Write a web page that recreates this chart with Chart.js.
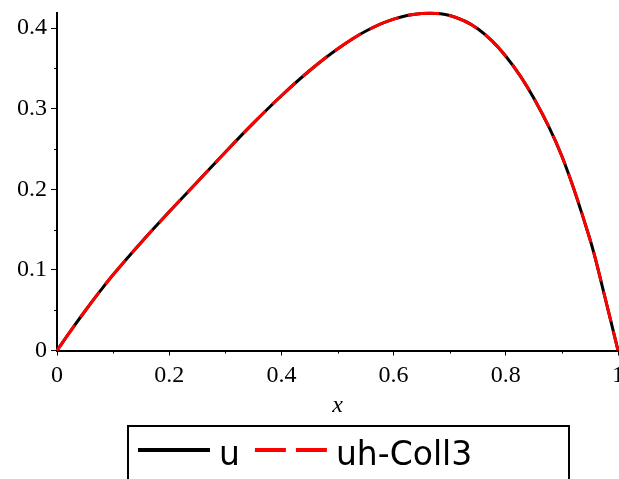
<!DOCTYPE html>
<html>
<head>
<meta charset="utf-8">
<script src="https://cdn.jsdelivr.net/npm/chart.js@4/dist/chart.umd.min.js"></script>
<style>
  html, body { margin: 0; padding: 0; background: #fff; }
  #plot { display: block; }
</style>
</head>
<body>
<canvas id="plot" width="619" height="479"></canvas>
<script>
// values (u and uh-Coll3 lie on top of each other)
const xValues  = [0, 0.025, 0.05, 0.075, 0.1, 0.15, 0.2, 0.25, 0.3, 0.35, 0.4, 0.45, 0.5,
                  0.55, 0.6, 0.65, 0.7, 0.75, 0.8, 0.85, 0.9, 0.95, 0.975, 1];
const uValues  = [0, 0.025, 0.049, 0.072, 0.094, 0.134, 0.172, 0.209, 0.246, 0.282, 0.316, 0.347, 0.374,
                  0.396, 0.411, 0.418, 0.4155, 0.399, 0.365, 0.313, 0.241, 0.138, 0.071, 0];
const uhValues = [0, 0.025, 0.049, 0.072, 0.094, 0.134, 0.172, 0.209, 0.246, 0.282, 0.316, 0.347, 0.374,
                  0.396, 0.411, 0.418, 0.4155, 0.399, 0.365, 0.313, 0.241, 0.138, 0.071, 0];

const xTicks = [0, 0.2, 0.4, 0.6, 0.8, 1];
const xMinorTicks = [0.1, 0.3, 0.5, 0.7, 0.9];
const yTicks = [0, 0.1, 0.2, 0.3, 0.4];
const yMinorTicks = [0.05, 0.15, 0.25, 0.35];
const X_MAX = 1;
const Y_MAX = 0.419;

const SERIF = '"Liberation Serif", "Times New Roman", serif';
const toPoints = ys => xValues.map((x, i) => ({ x, y: ys[i] }));
const tickLabel = v => String(Math.round(v * 10) / 10);

// short ticks between the labelled ones
const minorTicks = {
    id: 'minorTicks',
    afterDraw(chart) {
        const { ctx, chartArea, scales } = chart;
        ctx.save();
        ctx.strokeStyle = '#000';
        ctx.lineWidth = 1;
        ctx.beginPath();
        xMinorTicks.forEach(v => {
            const px = Math.round(scales.x.getPixelForValue(v)) + 0.5;
            ctx.moveTo(px, chartArea.bottom);
            ctx.lineTo(px, chartArea.bottom + 3);
        });
        yMinorTicks.forEach(v => {
            const py = Math.round(scales.y.getPixelForValue(v)) + 0.5;
            ctx.moveTo(chartArea.left - 3, py);
            ctx.lineTo(chartArea.left, py);
        });
        ctx.stroke();
        ctx.restore();
    }
};

// boxed legend under the axis title
const boxLegend = {
    id: 'boxLegend',
    afterDraw(chart) {
        const ctx = chart.ctx;
        ctx.save();
        ctx.strokeStyle = '#000';
        ctx.lineWidth = 2;
        ctx.strokeRect(128, 426, 441, 80);

        ctx.font = '33px "DejaVu Sans"';
        ctx.fillStyle = '#000';
        ctx.textBaseline = 'alphabetic';
        let x = 138;
        chart.data.datasets.forEach(ds => {
            ctx.strokeStyle = ds.borderColor;
            ctx.lineWidth = 4;
            ctx.setLineDash(ds.borderDash || []);
            ctx.beginPath();
            ctx.moveTo(x, 450);
            ctx.lineTo(x + 72, 450);
            ctx.stroke();
            ctx.setLineDash([]);
            x += 81;
            ctx.fillText(ds.label, x, 465);
            x += ctx.measureText(ds.label).width + 15;
        });
        ctx.restore();
    }
};

new Chart(document.getElementById('plot'), {
    type: 'line',
    data: {
        datasets: [
            {
                label: 'u',
                data: toPoints(uValues),
                borderColor: '#000000',
                borderWidth: 3,
                pointRadius: 0,
                tension: 0.35,
                clip: false,
                order: 1
            },
            {
                label: 'uh-Coll3',
                data: toPoints(uhValues),
                borderColor: '#ff0000',
                borderWidth: 3,
                borderDash: [31, 10],
                pointRadius: 0,
                tension: 0.35,
                clip: false,
                order: 0
            }
        ]
    },
    options: {
        responsive: false,
        animation: false,
        devicePixelRatio: 1,
        layout: { padding: { top: 12.7, right: 1, left: 0, bottom: 0 } },
        plugins: {
            legend: { display: false },
            tooltip: { enabled: false }
        },
        scales: {
            x: {
                type: 'linear',
                min: 0,
                max: X_MAX,
                afterBuildTicks: s => { s.ticks = xTicks.map(value => ({ value })); },
                afterFit: s => { s.height = 128.5; s.paddingLeft = 0; s.paddingRight = 0; },
                ticks: {
                    color: '#000',
                    font: { family: SERIF, size: 24 },
                    padding: 6,
                    maxRotation: 0,
                    autoSkip: false,
                    callback: v => tickLabel(v)
                },
                grid: { display: true, drawOnChartArea: false, drawTicks: true, tickLength: 5, tickColor: '#000', tickWidth: 1 },
                border: { display: true, color: '#000', width: 2 },
                title: {
                    display: true,
                    text: 'x',
                    color: '#000',
                    font: { family: SERIF, size: 24, style: 'italic' },
                    padding: { top: 0, bottom: 59 }
                }
            },
            y: {
                type: 'linear',
                min: 0,
                max: Y_MAX,
                afterBuildTicks: s => { s.ticks = yTicks.map(value => ({ value })); },
                afterFit: s => { s.width = 57; s.paddingTop = 0; s.paddingBottom = 0; },
                ticks: {
                    color: '#000',
                    font: { family: SERIF, size: 24 },
                    padding: 4,
                    autoSkip: false,
                    callback: v => tickLabel(v)
                },
                grid: { display: true, drawOnChartArea: false, drawTicks: true, tickLength: 6, tickColor: '#000', tickWidth: 1 },
                border: { display: true, color: '#000', width: 2 }
            }
        }
    },
    plugins: [minorTicks, boxLegend]
});
</script>
</body>
</html>
